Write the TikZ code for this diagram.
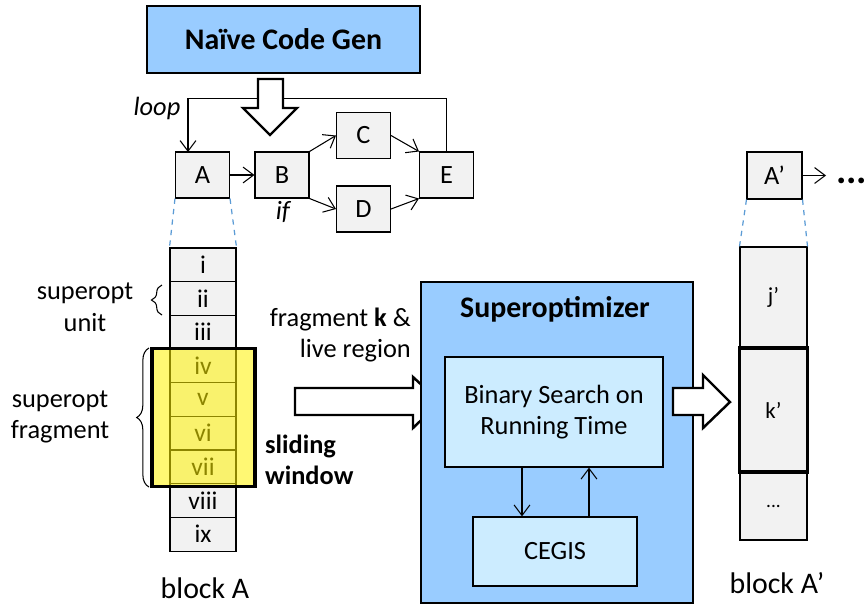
\documentclass[tikz,border=0pt]{standalone}
\usepackage{fontspec}
\setmainfont{Carlito}
\usetikzlibrary{arrows.meta,decorations.pathreplacing}

\definecolor{genblue}{HTML}{99CCFF}
\definecolor{innerblue}{HTML}{CCECFF}
\definecolor{boxgray}{HTML}{F2F2F2}
\definecolor{dashblue}{HTML}{5B9BD5}

\newcommand{\normfont}{\fontsize{15}{18}\selectfont}
\newcommand{\bigfont}{\fontsize{17}{20}\selectfont}
\newcommand{\rowfont}{\fontsize{14.5}{17.5}\selectfont}

\tikzset{
  arr/.style={-{Straight Barb[length=6pt,width=9pt]}, line width=0.6pt},
  cfgbox/.style={draw, fill=boxgray, line width=0.6pt, minimum width=1.08cm, minimum height=0.92cm, inner sep=0pt, font=\normfont},
  rowbox/.style={draw, fill=boxgray, line width=0.6pt, minimum width=1.32cm, minimum height=0.673cm, inner sep=0pt, font=\rowfont},
  hollow/.style={draw, fill=white, line width=1.4pt, line join=miter},
  zoomline/.style={dashblue, dashed, line width=0.7pt},
}

\begin{document}
\begin{tikzpicture}[x=0.02cm, y=-0.02cm]
\useasboundingbox (0,0) rectangle (866,606);

% code generator on top
\node[draw, fill=genblue, line width=0.7pt, minimum width=5.46cm, minimum height=1.34cm, font=\bigfont\bfseries] at (283.5, 39.5) (gen) {Naïve Code Gen};

% control flow graph
\node[cfgbox] at (202.5, 175) (A) {A};
\node[cfgbox] at (282,   175) (B) {B};
\node[cfgbox] at (363.5, 135.5) (C) {C};
\node[cfgbox] at (363.5, 209) (D) {D};
\node[cfgbox] at (446.5, 175) (E) {E};
\draw[arr] (A) -- (B);
\draw[arr] (B.north east) -- (C.west);
\draw[arr] (B.south east) -- (D.west);
\draw[arr] (C.east) -- (E.north west);
\draw[arr] (D.east) -- (E.south west);
\node[font=\normfont\itshape] at (283, 212) (iflab) {if};

% back edge
\coordinate (loopin) at (188, 152);
\draw[arr] (E.north) -- ++(0,-53) -| (loopin);
\node[font=\normfont\itshape] at (157, 108) (looplab) {loop};

% big arrow down from the generator
\draw[hollow] (258,79) -- (283,79) -- (283,108) -- (297,108) -- (270,135) -- (243,108) -- (258,108) -- cycle;

% block A, one row per superopt unit
\node[rowbox] at (203, 264.8) (r1) {i};
\node[rowbox] at (203, 298.5) (r2) {ii};
\node[rowbox] at (203, 332.2) (r3) {iii};
\node[rowbox] at (203, 365.8) (r4) {iv};
\node[rowbox] at (203, 399.5) (r5) {v};
\node[rowbox] at (203, 433.2) (r6) {vi};
\node[rowbox] at (203, 466.8) (r7) {vii};
\node[rowbox] at (203, 500.5) (r8) {viii};
\node[rowbox] at (203, 534.2) (r9) {ix};
\draw[zoomline] (A.south west) -- (r1.north west);
\draw[zoomline] (A.south east) -- (r1.north east);
\node[font=\bigfont] at (205, 588) (blockA) {block A};

% sliding window
\node[draw, line width=2.2pt, fill=yellow, fill opacity=0.55, minimum width=2.06cm, minimum height=2.76cm] at (203.5, 417.5) (window) {};
\node[font=\normfont\bfseries, align=left, anchor=west] at (259, 460) (slide) {sliding\\window};

% braces
\draw[decorate, decoration={brace, amplitude=6pt}, line width=0.6pt] (162,315) -- (162,285);
\node[font=\normfont, align=center] at (85, 307) (unitlab) {superopt\\unit};
\draw[decorate, decoration={brace, amplitude=7pt}, line width=0.6pt] (149,487) -- (149,348);
\node[font=\normfont, align=center] at (60, 417) (fraglab) {superopt\\fragment};

% input to the superoptimizer
\node[font=\normfont, align=right, anchor=east] at (417, 335) (inlab) {fragment \textbf{k} \&\\live region};
\draw[hollow] (295,388) -- (413,388) -- (413,377) -- (440,402) -- (413,428) -- (413,415) -- (295,415) -- cycle;

% superoptimizer
\node[draw, fill=genblue, line width=0.7pt, minimum width=5.44cm, minimum height=6.42cm] at (557, 442.5) (sopt) {};
\node[font=\bigfont\bfseries] at (555, 309) (soptlab) {Superoptimizer};
\node[draw, fill=innerblue, line width=0.7pt, minimum width=4.36cm, minimum height=2.2cm, font=\normfont, align=center] at (554, 412) (search) {Binary Search on\\Running Time};
\node[draw, fill=innerblue, line width=0.7pt, minimum width=3.28cm, minimum height=1.38cm, font=\normfont] at (555, 551.5) (cegis) {CEGIS};
\draw[arr] ([xshift=-0.64cm]search.south) -- ([xshift=-0.64cm]search.south |- cegis.north);
\draw[arr] ([xshift=0.7cm]search.south |- cegis.north) -- ([xshift=0.7cm]search.south);

% output
\draw[hollow] (673,388) -- (703,388) -- (703,375) -- (730,402) -- (703,428) -- (703,415) -- (673,415) -- cycle;

% block A'
\node[rowbox, minimum width=1.34cm, minimum height=2.0cm, font=\fontsize{13}{16}\selectfont] at (773.5, 297) (jrow) {j’};
\node[rowbox, minimum width=1.34cm, minimum height=2.52cm, font=\fontsize{13}{16}\selectfont] at (773.5, 410) (krow) {k’};
\node[rowbox, minimum width=1.34cm, minimum height=1.34cm, font=\fontsize{11}{13}\selectfont] at (773.5, 506.5) (rest) {...};
\node[draw, line width=2.2pt, minimum width=1.36cm, minimum height=2.48cm] at (773.5, 410) (kwin) {};
\node[font=\bigfont] at (777, 583) (blockAp) {block A’};

% next block
\node[cfgbox, minimum width=1.1cm, minimum height=0.94cm] at (774.5, 175.5) (Ap) {A’};
\node[font=\fontsize{22}{26}\selectfont\bfseries, anchor=west, inner sep=0pt] at (836, 181) (more) {...};
\draw[arr] (Ap.east) -- ([xshift=-0.2cm]Ap.east -| more.west);
\draw[zoomline] (Ap.south west) -- (jrow.north west);
\draw[zoomline] (Ap.south east) -- (jrow.north east);

\end{tikzpicture}
\end{document}
